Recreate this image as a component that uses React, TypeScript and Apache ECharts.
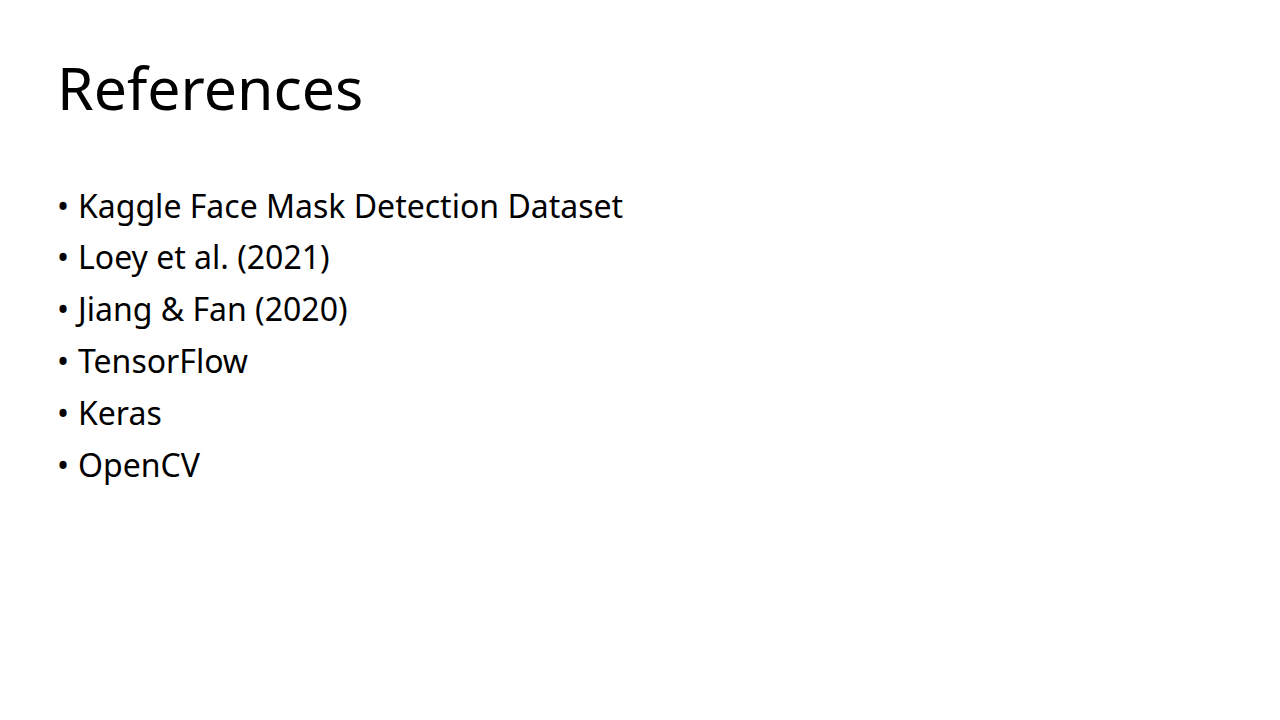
import React, { useEffect, useRef } from 'react';
import * as echarts from 'echarts';

const title = 'References';
const items = [
  'Kaggle Face Mask Detection Dataset',
  'Loey et al. (2021)',
  'Jiang & Fan (2020)',
  'TensorFlow',
  'Keras',
  'OpenCV',
];

const FONT = '"Noto Sans", "Open Sans", sans-serif';

const App = () => {
  const chartRef = useRef<HTMLDivElement>(null);

  useEffect(() => {
    const chartDom = chartRef.current;
    if (!chartDom) return;

    const myChart = echarts.init(chartDom, null, { renderer: 'svg' });

    const listTop = 205;
    const lineGap = 51.8;

    const elements: any[] = [
      {
        type: 'text',
        x: 57,
        y: 87,
        style: {
          text: title,
          fill: '#000',
          font: `59px ${FONT}`,
          textVerticalAlign: 'middle',
        },
      },
    ];

    items.forEach((item, i) => {
      const y = listTop + i * lineGap;
      elements.push({
        type: 'text',
        x: 57,
        y,
        style: {
          text: '•',
          fill: '#000',
          font: `32px ${FONT}`,
          textVerticalAlign: 'middle',
        },
      });
      elements.push({
        type: 'text',
        x: 78,
        y,
        style: {
          text: item,
          fill: '#000',
          font: `32px ${FONT}`,
          textVerticalAlign: 'middle',
        },
      });
    });

    const option = {
      animation: false,
      backgroundColor: '#fff',
      graphic: { elements },
    };

    myChart.setOption(option);

    return () => {
      myChart.dispose();
    };
  }, []);

  return (
    <div
      ref={chartRef}
      style={{ position: 'absolute', left: 0, top: 0, width: '1280px', height: '720px' }}
    ></div>
  );
};

export default App;
